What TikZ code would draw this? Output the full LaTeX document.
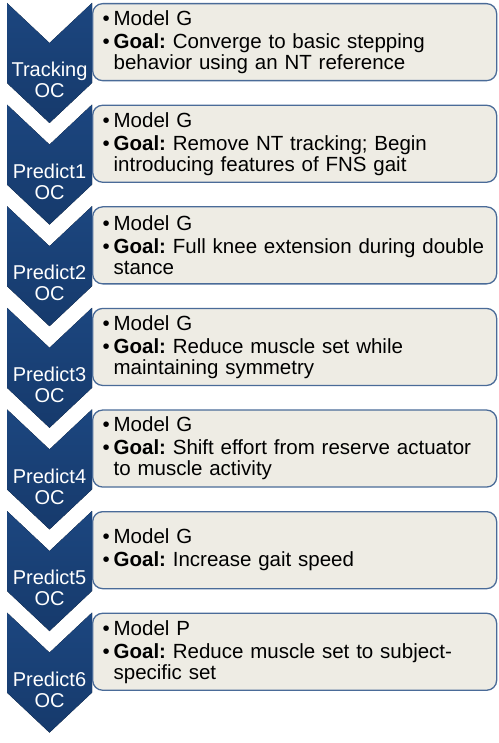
\documentclass[tikz,border=0pt]{standalone}
\usepackage{fontspec}
\setmainfont{Liberation Sans}
\usepackage{tikz}

\definecolor{chevblue}{HTML}{24559A}
\definecolor{chevtop}{HTML}{1C467F}
\definecolor{chevdark}{HTML}{163A6C}
\definecolor{boxfill}{HTML}{EEECE4}
\definecolor{boxline}{HTML}{4A6B98}

\newcommand{\bul}{\hspace*{6pt}\makebox[11pt][l]{\textbullet}}
\newcommand{\ind}{\hspace*{17pt}}

\begin{document}
\frenchspacing
\hyphenpenalty=10000
\begin{tikzpicture}[x=1pt, y=-1pt,
   chevron_style/.style={top color=chevtop, middle color=chevblue, bottom color=chevdark},
   tag_style/.style={text=white, align=center, inner sep=0pt, font=\fontsize{20}{21}\selectfont},
   goal_style/.style={draw=boxline, fill=boxfill, line width=1.3pt, rounded corners=10pt,
      anchor=north west, minimum width=404pt, minimum height=77pt, text width=396pt,
      inner xsep=4pt, align=left, font=\fontsize{20.5}{21}\selectfont}]
	\useasboundingbox (0,0) rectangle (498,743);

	\foreach \t/\stage/\model/\goal [count=\i] in {
		3/Tracking/G/{Converge to basic stepping\\\ind behavior using an NT reference},
		104.6/Predict1/G/{Remove NT tracking; Begin\\\ind introducing features of FNS gait},
		206.2/Predict2/G/{Full knee extension during double\\\ind stance},
		307.8/Predict3/G/{Reduce muscle set while\\\ind maintaining symmetry},
		409.4/Predict4/G/{Shift effort from reserve actuator\\\ind to muscle activity},
		511/Predict5/G/{Increase gait speed},
		612.6/Predict6/P/{Reduce muscle set to subject-\\\ind specific set}
		}
	{
	  \fill [chevron_style] (7,\t) -- (49.5,\t+40) -- (92,\t) -- (92,\t+80)
	        -- (49.5,\t+120) -- (7,\t+80) -- cycle;
	  \node [tag_style] (tag\i) at (49.5,\t+77) {\stage\\OC};
	  \node [goal_style] (goal\i) at (92,\t) {\bul Model \model\\[2pt]\bul\textbf{Goal:} \goal};
	}

\end{tikzpicture}
\end{document}
